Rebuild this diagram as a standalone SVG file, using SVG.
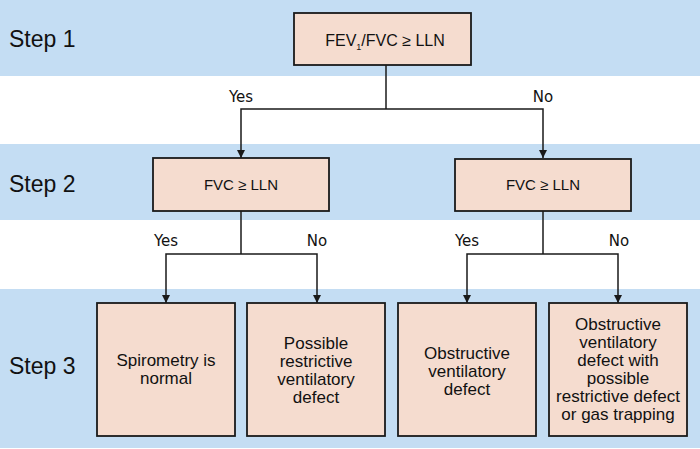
<svg xmlns="http://www.w3.org/2000/svg" width="700" height="449" viewBox="0 0 700 449">
<defs>
<style>
.band{fill:#c4ddf3}
.box{fill:#f5dccf;stroke:#1a1a1a;stroke-width:1.8}
.step{font-family:"Liberation Sans",Arial,sans-serif;font-size:23px;fill:#111}
.t{font-family:"Liberation Sans",Arial,sans-serif;font-size:17px;fill:#111;text-anchor:middle}
.c{font-family:"Liberation Sans",Arial,sans-serif;font-size:15px;fill:#111;text-anchor:middle}
.lbl{font-family:"DejaVu Sans",Verdana,sans-serif;font-size:15px;fill:#111;text-anchor:middle}
.ln{fill:none;stroke:#1a1a1a;stroke-width:1.5}
</style>
<marker id="ah" viewBox="0 0 8 10" refX="8" refY="5" markerWidth="8" markerHeight="10" markerUnits="userSpaceOnUse" orient="auto">
<path d="M0,1 L8,5 L0,9 Z" fill="#1a1a1a"/>
</marker>
</defs>
<rect width="700" height="449" fill="#ffffff"/>
<g id="bands">
<rect class="band" x="0" y="0" width="700" height="76"/>
<rect class="band" x="0" y="144" width="700" height="76"/>
<rect class="band" x="0" y="289" width="700" height="159"/>
</g>
<g id="steps">
<text class="step" x="9" y="47">Step 1</text>
<text class="step" x="9" y="192">Step 2</text>
<text class="step" x="9" y="374">Step 3</text>
</g>
<g id="connectors">
<path class="ln" d="M386,65 V109"/>
<path class="ln" d="M386,109 H241 V158" marker-end="url(#ah)"/>
<path class="ln" d="M386,109 H543 V158" marker-end="url(#ah)"/>
<path class="ln" d="M241,211 V254"/>
<path class="ln" d="M241,254 H166 V303" marker-end="url(#ah)"/>
<path class="ln" d="M241,254 H317 V303" marker-end="url(#ah)"/>
<path class="ln" d="M543,211 V254"/>
<path class="ln" d="M543,254 H467 V303" marker-end="url(#ah)"/>
<path class="ln" d="M543,254 H618 V303" marker-end="url(#ah)"/>
<text class="lbl" x="241" y="102">Yes</text>
<text class="lbl" x="543" y="102">No</text>
<text class="lbl" x="166" y="246">Yes</text>
<text class="lbl" x="317" y="246">No</text>
<text class="lbl" x="467" y="246">Yes</text>
<text class="lbl" x="619" y="246">No</text>
</g>
<g id="n1">
<rect class="box" x="294" y="13" width="177" height="52"/>
<text class="c" x="385" y="46" style="font-size:16px">FEV<tspan style="font-size:9px" dy="4">1</tspan><tspan dy="-4">/FVC ≥ LLN</tspan></text>
</g>
<g id="n2">
<rect class="box" x="153" y="158" width="176" height="53"/>
<text class="c" x="241" y="190">FVC ≥ LLN</text>
</g>
<g id="n3">
<rect class="box" x="455" y="159" width="176" height="52"/>
<text class="c" x="543" y="190">FVC ≥ LLN</text>
</g>
<g id="n4">
<rect class="box" x="97" y="303" width="138" height="133"/>
<text class="t" x="166" y="366">Spirometry is</text>
<text class="t" x="166" y="384">normal</text>
</g>
<g id="n5">
<rect class="box" x="247" y="303" width="138" height="133"/>
<text class="t" x="316" y="349">Possible</text>
<text class="t" x="316" y="367">restrictive</text>
<text class="t" x="316" y="385">ventilatory</text>
<text class="t" x="316" y="403">defect</text>
</g>
<g id="n6">
<rect class="box" x="398" y="303" width="138" height="133"/>
<text class="t" x="467" y="359">Obstructive</text>
<text class="t" x="467" y="377">ventilatory</text>
<text class="t" x="467" y="395">defect</text>
</g>
<g id="n7">
<rect class="box" x="549" y="303" width="138" height="133"/>
<text class="t" x="618" y="330">Obstructive</text>
<text class="t" x="618" y="348">ventilatory</text>
<text class="t" x="618" y="366">defect with</text>
<text class="t" x="618" y="384">possible</text>
<text class="t" x="618" y="402">restrictive defect</text>
<text class="t" x="618" y="420">or gas trapping</text>
</g>
</svg>
